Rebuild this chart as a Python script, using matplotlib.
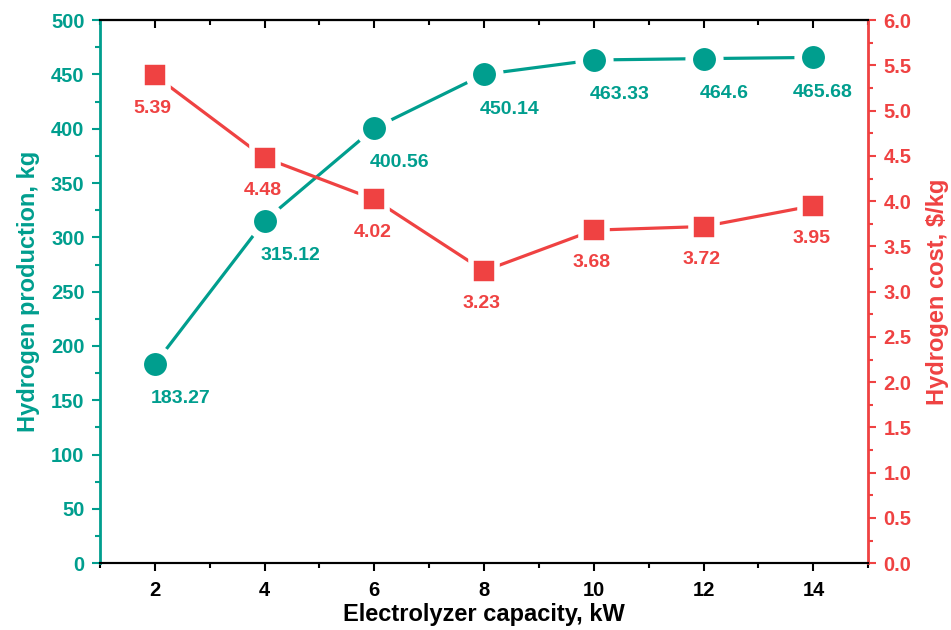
import numpy as np
import matplotlib.pyplot as plt
from matplotlib.ticker import MultipleLocator

plt.rcParams['font.family'] = ['Liberation Sans', 'DejaVu Sans']
plt.rcParams['font.weight'] = 'bold'

# data
capacity = [2, 4, 6, 8, 10, 12, 14]
production = [183.27, 315.12, 400.56, 450.14, 463.33, 464.6, 465.68]
cost = [5.39, 4.48, 4.02, 3.23, 3.68, 3.72, 3.95]
prod_labels = ['183.27', '315.12', '400.56', '450.14', '463.33', '464.6', '465.68']
cost_labels = ['5.39', '4.48', '4.02', '3.23', '3.68', '3.72', '3.95']

teal = '#009E8E'
red = '#EF4242'

fig = plt.figure(figsize=(9.51, 6.3), dpi=100)
ax = fig.add_axes([0.105, 0.106, 0.808, 0.862])
ax2 = ax.twinx()

ax.plot(capacity, production, color=teal, lw=2.3, marker='o', ms=22,
        mfc=teal, mec='white', mew=5.5, zorder=3)
ax2.plot(capacity, cost, color=red, lw=2.3, marker='s', ms=19,
         mfc=red, mec='white', mew=4, zorder=3)

# data labels
dx_prod = [-3, -3, -3, -3, -3, -3, -15]
for x, y, s, dx in zip(capacity, production, prod_labels, dx_prod):
    ax.annotate(s, (x, y), xytext=(dx, -25), textcoords='offset points',
                ha='left', va='center', color=teal, fontsize=14, fontweight='bold')
for x, y, s in zip(capacity, cost, cost_labels):
    ax2.annotate(s, (x, y), xytext=(-1.5, -23.5), textcoords='offset points',
                 ha='center', va='center', color=red, fontsize=14, fontweight='bold')

ax.set_xlim(1, 15)
ax.set_ylim(0, 500)
ax2.set_ylim(0, 6.0)
ax.xaxis.set_major_locator(MultipleLocator(2))
ax.xaxis.set_minor_locator(MultipleLocator(1))
ax.yaxis.set_major_locator(MultipleLocator(50))
ax.yaxis.set_minor_locator(MultipleLocator(25))
ax2.yaxis.set_major_locator(MultipleLocator(0.5))
ax2.yaxis.set_minor_locator(MultipleLocator(0.25))
ax2.yaxis.set_major_formatter(plt.FormatStrFormatter('%.1f'))

# spines
for a in (ax, ax2):
    a.spines['top'].set_linewidth(1.5)
    a.spines['bottom'].set_linewidth(1.5)
ax.spines['left'].set_color(teal)
ax.spines['left'].set_linewidth(2)
ax2.spines['right'].set_color(red)
ax2.spines['right'].set_linewidth(2)
ax2.spines['left'].set_visible(False)
ax.spines['right'].set_visible(False)

# bottom ticks outward
ax.tick_params(axis='x', which='both', direction='out', width=1.5,
               labelsize=14.5, pad=7)
ax.tick_params(axis='x', which='major', length=6)
ax.tick_params(axis='x', which='minor', length=3.5)

# top ticks inward
top = ax.secondary_xaxis('top')
top.xaxis.set_major_locator(MultipleLocator(2))
top.xaxis.set_minor_locator(MultipleLocator(1))
top.tick_params(axis='x', which='both', direction='in', width=1.5, labeltop=False)
top.tick_params(axis='x', which='major', length=6)
top.tick_params(axis='x', which='minor', length=3.5)
top.spines['top'].set_linewidth(1.5)

ax.tick_params(axis='y', which='both', direction='out', colors=teal, width=1.5,
               labelsize=14.5, pad=5)
ax.tick_params(axis='y', which='major', length=6)
ax.tick_params(axis='y', which='minor', length=3.5)
ax2.tick_params(axis='y', which='both', direction='out', colors=red, width=1.5,
                labelsize=14.5, pad=5)
ax2.tick_params(axis='y', which='major', length=6)
ax2.tick_params(axis='y', which='minor', length=3.5)

ax.set_xlabel('Electrolyzer capacity, kW', fontsize=17, fontweight='bold', labelpad=2)
ax.set_ylabel('Hydrogen production, kg', fontsize=17, fontweight='bold', color=teal, labelpad=8)
ax2.set_ylabel('Hydrogen cost, $/kg', fontsize=17, fontweight='bold', color=red, labelpad=10)

fig.savefig('out.png', dpi=100)
